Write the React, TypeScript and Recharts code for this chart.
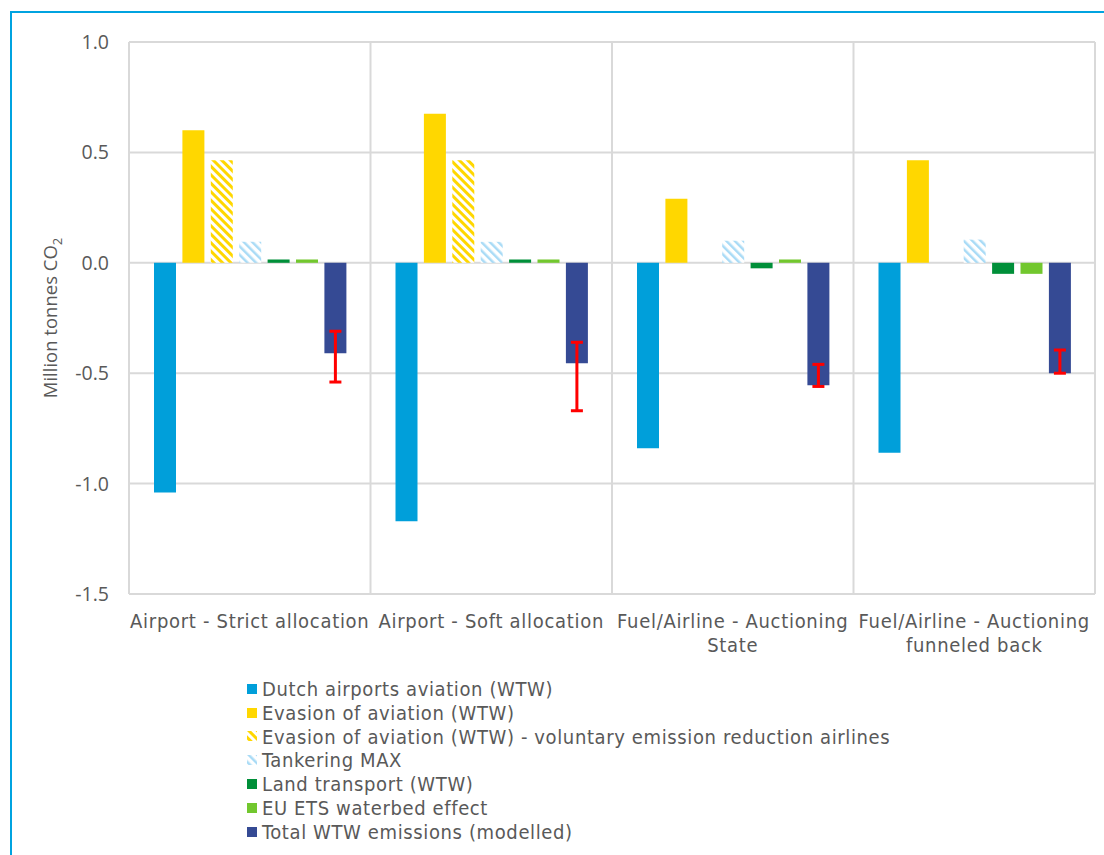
import { Bar, BarChart, CartesianGrid, ErrorBar, Legend, XAxis, YAxis } from "recharts";

const categories = [
  "Airport - Strict allocation",
  "Airport - Soft allocation",
  "Fuel/Airline - Auctioning\nState",
  "Fuel/Airline - Auctioning\nfunneled back",
];

const dutchAirports = [-1.04, -1.17, -0.84, -0.86];
const evasion = [0.6, 0.675, 0.29, 0.465];
const evasionVoluntary = [0.465, 0.465, 0, 0];
const tankering = [0.095, 0.095, 0.1, 0.105];
const landTransport = [0.015, 0.015, -0.025, -0.05];
const waterbed = [0.015, 0.015, 0.015, -0.05];
const totalWtw = [-0.41, -0.455, -0.555, -0.5];
const totalLow = [-0.54, -0.67, -0.56, -0.5];
const totalHigh = [-0.31, -0.36, -0.46, -0.395];

const yTicks = [-1.5, -1, -0.5, 0, 0.5, 1];
// category boundaries, in index units
const gridTicks = [-0.5, 0.5, 1.5, 2.5, 3.5];

const seriesOrder = ["dutch", "evasion", "voluntary", "tankering", "land", "waterbed", "total"];

const data = categories.map((name, i) => ({
  idx: i,
  name,
  dutch: dutchAirports[i],
  evasion: evasion[i],
  voluntary: evasionVoluntary[i],
  tankering: tankering[i],
  land: landTransport[i],
  waterbed: waterbed[i],
  total: totalWtw[i],
  totalErr: [totalWtw[i] - totalLow[i], totalHigh[i] - totalWtw[i]],
}));

const TEXT = "#595959";
const LABEL_FONT = "'DejaVu Sans Condensed', 'DejaVu Sans', sans-serif";
const NUM_FONT = "'Open Sans', sans-serif";

const CategoryTick = ({ x, y, payload }: any) => {
  const lines = String(payload.value).split("\n");
  return (
    <text
      x={x}
      y={y}
      textAnchor="middle"
      fill={TEXT}
      fontFamily={LABEL_FONT}
      fontSize={20}
      letterSpacing={0.7}
    >
      {lines.map((line, i) => (
        <tspan key={line} x={x} dy={i === 0 ? 26 : 24}>
          {line}
        </tspan>
      ))}
    </text>
  );
};

const YLabel = () => (
  <text
    transform="translate(57, 318) rotate(-90)"
    textAnchor="middle"
    fill={TEXT}
    fontFamily={NUM_FONT}
    fontSize={18.5}
  >
    Million tonnes CO
    <tspan fontSize={13} dy={5}>
      2
    </tspan>
  </text>
);

const LegendList = ({ payload }: any) => (
  <div style={{ fontFamily: LABEL_FONT, fontSize: 20, color: TEXT, letterSpacing: 0.62 }}>
    {payload.map((item: any) => (
      <div key={item.value} style={{ display: "flex", alignItems: "center", height: 23.8 }}>
        <svg width={10} height={10} style={{ marginRight: 5 }}>
          <rect width={10} height={10} fill={item.color} />
        </svg>
        <span>{item.value}</span>
      </div>
    ))}
  </div>
);

export default function App() {
  return (
    <div style={{ position: "absolute", left: 0, top: 0, width: 1104, height: 855, background: "#fff" }}>
      <div
        style={{
          position: "absolute",
          left: 10,
          top: 11,
          width: 1094,
          height: 844,
          borderTop: "2px solid #00a3e0",
          borderLeft: "2px solid #00a3e0",
        }}
      />
      <BarChart
        width={1104}
        height={855}
        data={data}
        margin={{ top: 42, right: 9, left: 59, bottom: 201 }}
        barSize={22}
        barGap={6.4}
        style={{ position: "absolute", left: 0, top: 0 }}
      >
        <defs>
          <pattern id="hatchYellow" width={6} height={6} patternUnits="userSpaceOnUse" patternTransform="rotate(-45)">
            <rect width={6} height={6} fill="#fff" />
            <rect width={3} height={6} fill="#ffd700" />
          </pattern>
          <pattern id="hatchBlue" width={6} height={6} patternUnits="userSpaceOnUse" patternTransform="rotate(-45)">
            <rect width={6} height={6} fill="#fff" />
            <rect width={2.5} height={6} fill="#a9dbf6" />
          </pattern>
        </defs>
        <CartesianGrid xAxisId="grid" stroke="#d9d9d9" strokeWidth={2} />
        <XAxis
          xAxisId="grid"
          dataKey="idx"
          type="number"
          domain={[-0.5, 3.5]}
          ticks={gridTicks}
          allowDataOverflow
          hide
        />
        <XAxis
          xAxisId="cat"
          dataKey="name"
          axisLine={false}
          tickLine={false}
          interval={0}
          height={60}
          tick={<CategoryTick />}
        />
        <YAxis
          domain={[-1.5, 1]}
          ticks={yTicks}
          width={70}
          axisLine={false}
          tickLine={false}
          tickMargin={14}
          tickFormatter={(v: number) => v.toFixed(1)}
          tick={{ fill: TEXT, fontFamily: NUM_FONT, fontSize: 19.5 }}
          label={<YLabel />}
        />
        <Legend
          layout="vertical"
          align="center"
          verticalAlign="middle"
          itemSorter={(item: any) => seriesOrder.indexOf(item.dataKey)}
          wrapperStyle={{ left: 247, top: 677, width: 720 }}
          content={<LegendList />}
        />
        <Bar xAxisId="cat" dataKey="dutch" name="Dutch airports aviation (WTW)" fill="#009fda" isAnimationActive={false} />
        <Bar xAxisId="cat" dataKey="evasion" name="Evasion of aviation (WTW)" fill="#ffd700" isAnimationActive={false} />
        <Bar
          xAxisId="cat"
          dataKey="voluntary"
          name="Evasion of aviation (WTW) - voluntary emission reduction airlines"
          fill="url(#hatchYellow)"
          isAnimationActive={false}
        />
        <Bar xAxisId="cat" dataKey="tankering" name="Tankering MAX" fill="url(#hatchBlue)" isAnimationActive={false} />
        <Bar xAxisId="cat" dataKey="land" name="Land transport (WTW)" fill="#008f39" isAnimationActive={false} />
        <Bar xAxisId="cat" dataKey="waterbed" name="EU ETS waterbed effect" fill="#72c72e" isAnimationActive={false} />
        <Bar xAxisId="cat" dataKey="total" name="Total WTW emissions (modelled)" fill="#354a94" isAnimationActive={false}>
          <ErrorBar dataKey="totalErr" width={6} stroke="#ff0000" strokeWidth={3} />
        </Bar>
      </BarChart>
    </div>
  );
}
